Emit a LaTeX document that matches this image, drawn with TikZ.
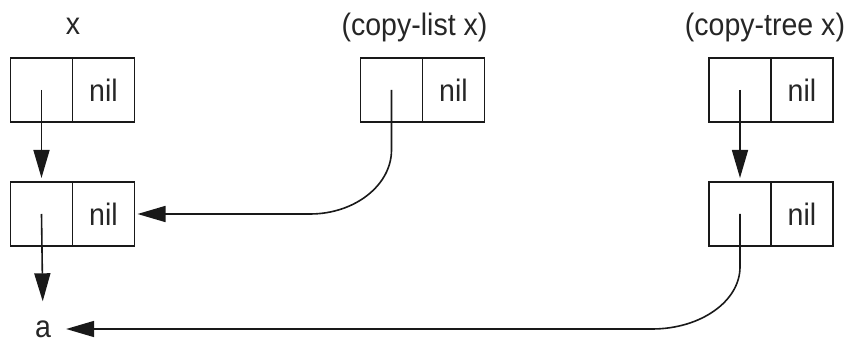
\documentclass[tikz,border=0pt]{standalone}
\usepackage{fontspec}
\setmainfont{Liberation Sans}[FakeStretch=0.92]
\usetikzlibrary{arrows.meta}
\begin{document}
\begin{tikzpicture}[x=1pt,y=-1pt,
  cell/.style={draw=black!90, line width=1.6pt, minimum width=62pt, minimum height=64pt,
    inner sep=0pt, outer sep=0pt, font=\fontsize{31}{37}\selectfont, text=black!85},
  lbl/.style={inner sep=0pt, font=\fontsize{31}{37}\selectfont, text=black!85},
  ptr/.style={draw=black!90, line width=1.6pt, -{Triangle[length=28pt,width=16pt]}}]
\useasboundingbox (0,0) rectangle (856,347);
% labels
\node[lbl, anchor=base] (lx) at (73,35) {x};
\node[lbl, anchor=base] (lcl) at (414.5,36) {(copy-list x)};
\node[lbl, anchor=base] (lct) at (765,36) {(copy-tree x)};
% cells
\node[cell] (L1car) at (41.5,90) {};
\node[cell] (L1cdr) at (103.5,90) {nil};
\node[cell] (L2car) at (41.5,214) {};
\node[cell] (L2cdr) at (103.5,214) {nil};
\node[cell] (M1car) at (391.5,90) {};
\node[cell] (M1cdr) at (453.5,90) {nil};
\node[cell] (R1car) at (740,90) {};
\node[cell] (R1cdr) at (802,90) {nil};
\node[cell] (R2car) at (740,214) {};
\node[cell] (R2cdr) at (802,214) {nil};
\node[lbl] (a) at (43,329) {a};
% pointers
\draw[ptr, shorten >=4pt] (L1car.center) -- (L2car.north);
\draw[ptr, shorten >=19pt] (L2car.center) -- (a.north);
\draw[ptr, shorten >=3pt] (M1car.center) -- ++(0,60) .. controls +(0,35) and (355,214) .. (310,214) -- (L2cdr.east);
\draw[ptr, shorten >=4pt] (R1car.center) -- (R2car.north);
\draw[ptr, shorten >=15pt] (R2car.center) -- ++(0,53) .. controls +(0,34) and (701,329) .. (652,329) -- (a.east);
\end{tikzpicture}
\end{document}
